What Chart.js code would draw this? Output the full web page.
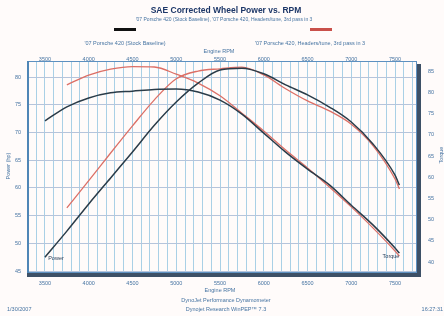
<!DOCTYPE html>
<html><head><meta charset="utf-8">
<script src="https://cdn.jsdelivr.net/npm/chart.js@4.4.0/dist/chart.umd.min.js"></script>
<style>html,body{margin:0;padding:0;background:#fff;}canvas{display:block;}</style>
</head><body>
<canvas id="c" width="444" height="316" style="width:444px;height:316px"></canvas>
<script>
// ---- data ----
const titleText = 'SAE Corrected Wheel Power vs. RPM';
const subtitleText = "'07 Porsche 420 (Stock Baseline), '07 Porsche 420, Headers/tune, 3rd pass in 3";
const seriesNames = ["'07 Porsche 420 (Stock Baseline)", "'07 Porsche 420, Headers/tune, 3rd pass in 3"];
const rpmStock = [3500,3750,4000,4250,4500,4750,5000,5250,5500,5750,6000,6250,6500,6750,7000,7250,7500,7550];
const rpmMod   = [3750,4000,4250,4500,4750,5000,5250,5500,5750,6000,6250,6500,6750,7000,7250,7500,7550];
const powerStock  = [47.5,52.2,57.1,61.8,66.5,71.3,75.5,78.9,81.3,81.6,80.6,78.6,76.8,74.6,71.9,67.9,62.3,60.5];
const torqueStock = [73.3,76.6,78.7,79.9,80.3,80.7,80.8,80.1,78.2,74.9,70.4,65.9,61.9,58.2,53.4,48.7,43.3,42.1];
const powerMod  = [56.4,61.3,66.3,71.2,75.9,79.7,81.1,81.5,81.8,80.4,77.9,75.7,73.9,71.5,67.6,61.6,59.8];
const torqueMod = [81.8,84.1,85.5,86.1,86.0,84.3,82.2,79.2,75.1,70.9,66.4,62.2,57.7,53.0,48.0,42.6,41.4];
const rpmTicks = [3500,4000,4500,5000,5500,6000,6500,7000,7500];
const rpmMinorTicks = [3400,3500,3600,3700,3800,3900,4000,4100,4200,4300,4400,4500,4600,4700,4800,4900,5000,5100,5200,5300,5400,5500,5600,5700,5800,5900,6000,6100,6200,6300,6400,6500,6600,6700,6800,6900,7000,7100,7200,7300,7400,7500,7600,7700];
const powerTicks = [45,50,55,60,65,70,75,80];
const torqueTicks = [40,45,50,55,60,65,70,75,80,85];
const xTitle = 'Engine RPM';
const yTitle = 'Power (hp)';
const y2Title = 'Torque';
const footer1 = 'DynoJet Performance Dynamometer';
const footer2 = 'Dynojet Research WinPEP\u2122 7.3';
const dateText = '1/30/2007';
const timeText = '16:27:31';

const txtColor = '#4674a2';
const tickFont = {family: '"Liberation Sans", Arial, sans-serif', size: 5.5};

function pts(xs, ys){ return xs.map((x,i)=>({x:x, y:ys[i]})); }

const decor = {
  id: 'decor',
  beforeDraw(chart){
    const c = chart.ctx; c.save(); c.fillStyle = '#fffbfa'; c.fillRect(0,0,chart.width,chart.height); c.restore();
  },
  afterDraw(chart){
    const c = chart.ctx, a = chart.chartArea;
    c.save();
    // frame
    c.strokeStyle = '#5d90c0'; c.lineWidth = 1;
    c.strokeRect(a.left+0.5, a.top+0.5, a.right-a.left-1, a.bottom-a.top-1);
    c.fillStyle = '#4f86b6'; c.fillRect(a.left-1, a.top, 2, a.bottom-a.top);
    c.fillStyle = '#3d5066';
    c.fillRect(a.right, a.top+3, 4, a.bottom-a.top+1);
    c.fillRect(a.left-1, a.bottom, a.right-a.left+5, 4);
    // title
    c.textAlign = 'center'; c.textBaseline = 'middle';
    c.fillStyle = '#1d3768'; c.font = 'bold 8.5px "Liberation Sans", Arial, sans-serif';
    c.fillText(titleText, 226, 10.5);
    c.fillStyle = txtColor; c.font = '5px "Liberation Sans", Arial, sans-serif';
    c.fillText(subtitleText, 224, 19.5);
    // legend
    c.font = '5.5px "Liberation Sans", Arial, sans-serif';
    const lx = [125, 321];
    for (let i=0;i<2;i++){
      c.fillStyle = i===0 ? '#111111' : '#c9504a';
      c.fillRect(lx[i]-11, 28, 22, 3);
      c.fillStyle = txtColor;
      c.fillText(seriesNames[i], i===0?125:310, 43.5);
    }
    // axis titles
    c.fillText(xTitle, 219, 51.5);
    c.fillText(xTitle, 220, 290.5);
    c.fillText(footer1, 226, 300.5);
    c.fillText(footer2, 226, 309.5);
    c.textAlign = 'left'; c.fillText(dateText, 7, 309.5);
    c.textAlign = 'right'; c.fillText(timeText, 443, 309.5);
    c.textAlign = 'center';
    c.save(); c.translate(8, 166); c.rotate(-Math.PI/2); c.fillText(yTitle, 0, 0); c.restore();
    c.save(); c.translate(441, 155); c.rotate(-Math.PI/2); c.fillText(y2Title, 0, 0); c.restore();
    // curve end labels
    c.fillStyle = '#2a3f5a';
    c.fillText('Power', 56, 258.5);
    c.fillText('Torque', 391, 256.5);
    c.restore();
  }
};

new Chart(document.getElementById('c'), {
  type: 'line',
  data: {
    datasets: [
      {label: seriesNames[0]+' Power', data: pts(rpmStock, powerStock), yAxisID:'y', borderColor:'#2a3b48', borderWidth:1.5, order:0},
      {label: seriesNames[0]+' Torque', data: pts(rpmStock, torqueStock), yAxisID:'y2', borderColor:'#2a3b48', borderWidth:1.5, order:1},
      {label: seriesNames[1]+' Power', data: pts(rpmMod, powerMod), yAxisID:'y', borderColor:'#dc6f66', borderWidth:1.3, order:2},
      {label: seriesNames[1]+' Torque', data: pts(rpmMod, torqueMod), yAxisID:'y2', borderColor:'#dc6f66', borderWidth:1.3, order:3}
    ]
  },
  options: {
    responsive: false, animation: false, devicePixelRatio: 1,
    elements: {point:{radius:0}, line:{tension:0.4, cubicInterpolationMode:'monotone', fill:false}},
    layout: {autoPadding:false, padding:{top:48, left:0, right:0, bottom:0}},
    plugins: {legend:{display:false}, title:{display:false}, tooltip:{enabled:false}},
    scales: {
      x: {type:'linear', position:'bottom', min:3306, max:7751,
        afterBuildTicks: s => { s.ticks = rpmMinorTicks.map(v=>({value:v})); },
        ticks:{autoSkip:false, maxRotation:0, padding:7, color:txtColor, font:tickFont, callback: v => rpmTicks.includes(v) ? String(v) : ''},
        grid:{color:'#a9d0e6', lineWidth:1, drawTicks:false}, border:{display:false},
        afterFit: s => { s.height = 43; }},
      x2: {type:'linear', position:'top', min:3306, max:7751,
        afterBuildTicks: s => { s.ticks = rpmTicks.map(v=>({value:v})); },
        ticks:{autoSkip:false, maxRotation:0, padding:-2, color:txtColor, font:tickFont, callback: v => String(v)},
        grid:{display:false, drawTicks:false}, border:{display:false},
        afterFit: s => { s.height = 13; }},
      y: {type:'linear', position:'left', min:44.64, max:82.91,
        afterBuildTicks: s => { s.ticks = powerTicks.map(v=>({value:v})); },
        ticks:{padding:7, color:txtColor, font:tickFont, callback: v => String(v)},
        grid:{color:'#b5c4db', lineWidth:1, drawTicks:false}, border:{display:false},
        afterFit: s => { s.width = 28; }},
      y2: {type:'linear', position:'right', min:37.41, max:87.41,
        afterBuildTicks: s => { s.ticks = torqueTicks.map(v=>({value:v})); },
        ticks:{padding:11, color:txtColor, font:tickFont, callback: v => String(v)},
        grid:{drawOnChartArea:false, drawTicks:false}, border:{display:false},
        afterFit: s => { s.width = 27; }}
    }
  },
  plugins: [decor]
});
</script>
</body></html>
